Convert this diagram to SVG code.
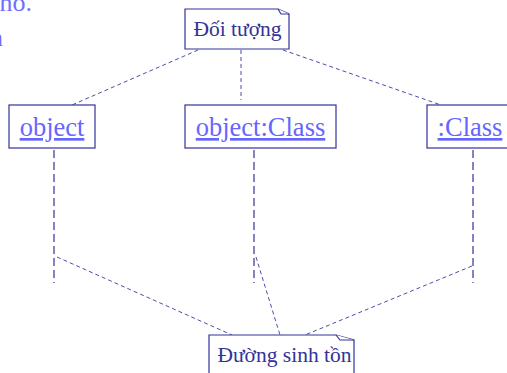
<svg xmlns="http://www.w3.org/2000/svg" width="507" height="373" viewBox="0 0 507 373">
<style>
.box{fill:#fff;stroke:#333399;stroke-width:1.2}
.note{fill:#fff;stroke:#333399;stroke-width:1.2}
.lbl{font-family:"Liberation Serif",serif;font-size:26.5px;fill:#6666ff;text-decoration:underline}
.ntxt{font-family:"Liberation Serif",serif;font-size:21.5px;fill:#333399}
.frag{font-family:"Liberation Serif",serif;font-size:26px;fill:#6f6fff}
.life{stroke:#333399;stroke-width:1.2;stroke-dasharray:8 4;fill:none}
.link{stroke:#4d4daa;stroke-width:1;stroke-dasharray:4 3;fill:none}
</style>
<rect width="507" height="373" fill="#fff"/>
<text class="frag" x="32" y="11" text-anchor="end">nó.</text>
<text class="frag" x="3" y="46" text-anchor="end">n</text>
<g id="connectors">
<line class="link" x1="198" y1="50" x2="72" y2="105"/>
<line class="link" x1="241" y1="50" x2="241" y2="100"/>
<line class="link" x1="283" y1="50" x2="441" y2="105"/>
<line class="life" x1="54" y1="150" x2="54" y2="283"/>
<line class="life" x1="254" y1="150" x2="254" y2="283"/>
<line class="life" x1="473" y1="150" x2="473" y2="283"/>
<line class="link" x1="57" y1="257" x2="232" y2="335"/>
<line class="link" x1="256" y1="257" x2="280" y2="335"/>
<line class="link" x1="472" y1="266" x2="305" y2="335"/>
</g>
<g id="note-doituong">
<path class="note" d="M185,9 H278 L289,14 V49 H185 Z"/>
<path class="note" d="M278,9 L281,14 H289" fill="none"/>
<text class="ntxt" x="237.5" y="36" text-anchor="middle">Đối tượng</text>
</g>
<g id="obj-object">
<rect class="box" x="9" y="105" width="86" height="43"/>
<text class="lbl" x="52" y="136" text-anchor="middle">object</text>
</g>
<g id="obj-objectclass">
<rect class="box" x="185" y="105" width="151" height="43"/>
<text class="lbl" x="260.5" y="136" text-anchor="middle">object:Class</text>
</g>
<g id="obj-class">
<rect class="box" x="427" y="105" width="90" height="43"/>
<text class="lbl" x="470" y="136" text-anchor="middle">:Class</text>
</g>
<g id="note-duongsinhton">
<path class="note" d="M209,335 H336 L354,340 V380 H209 Z"/>
<path class="note" d="M336,335 L340,340 H354" fill="none"/>
<text class="ntxt" x="284.5" y="362" text-anchor="middle">Đường sinh tồn</text>
</g>
</svg>
